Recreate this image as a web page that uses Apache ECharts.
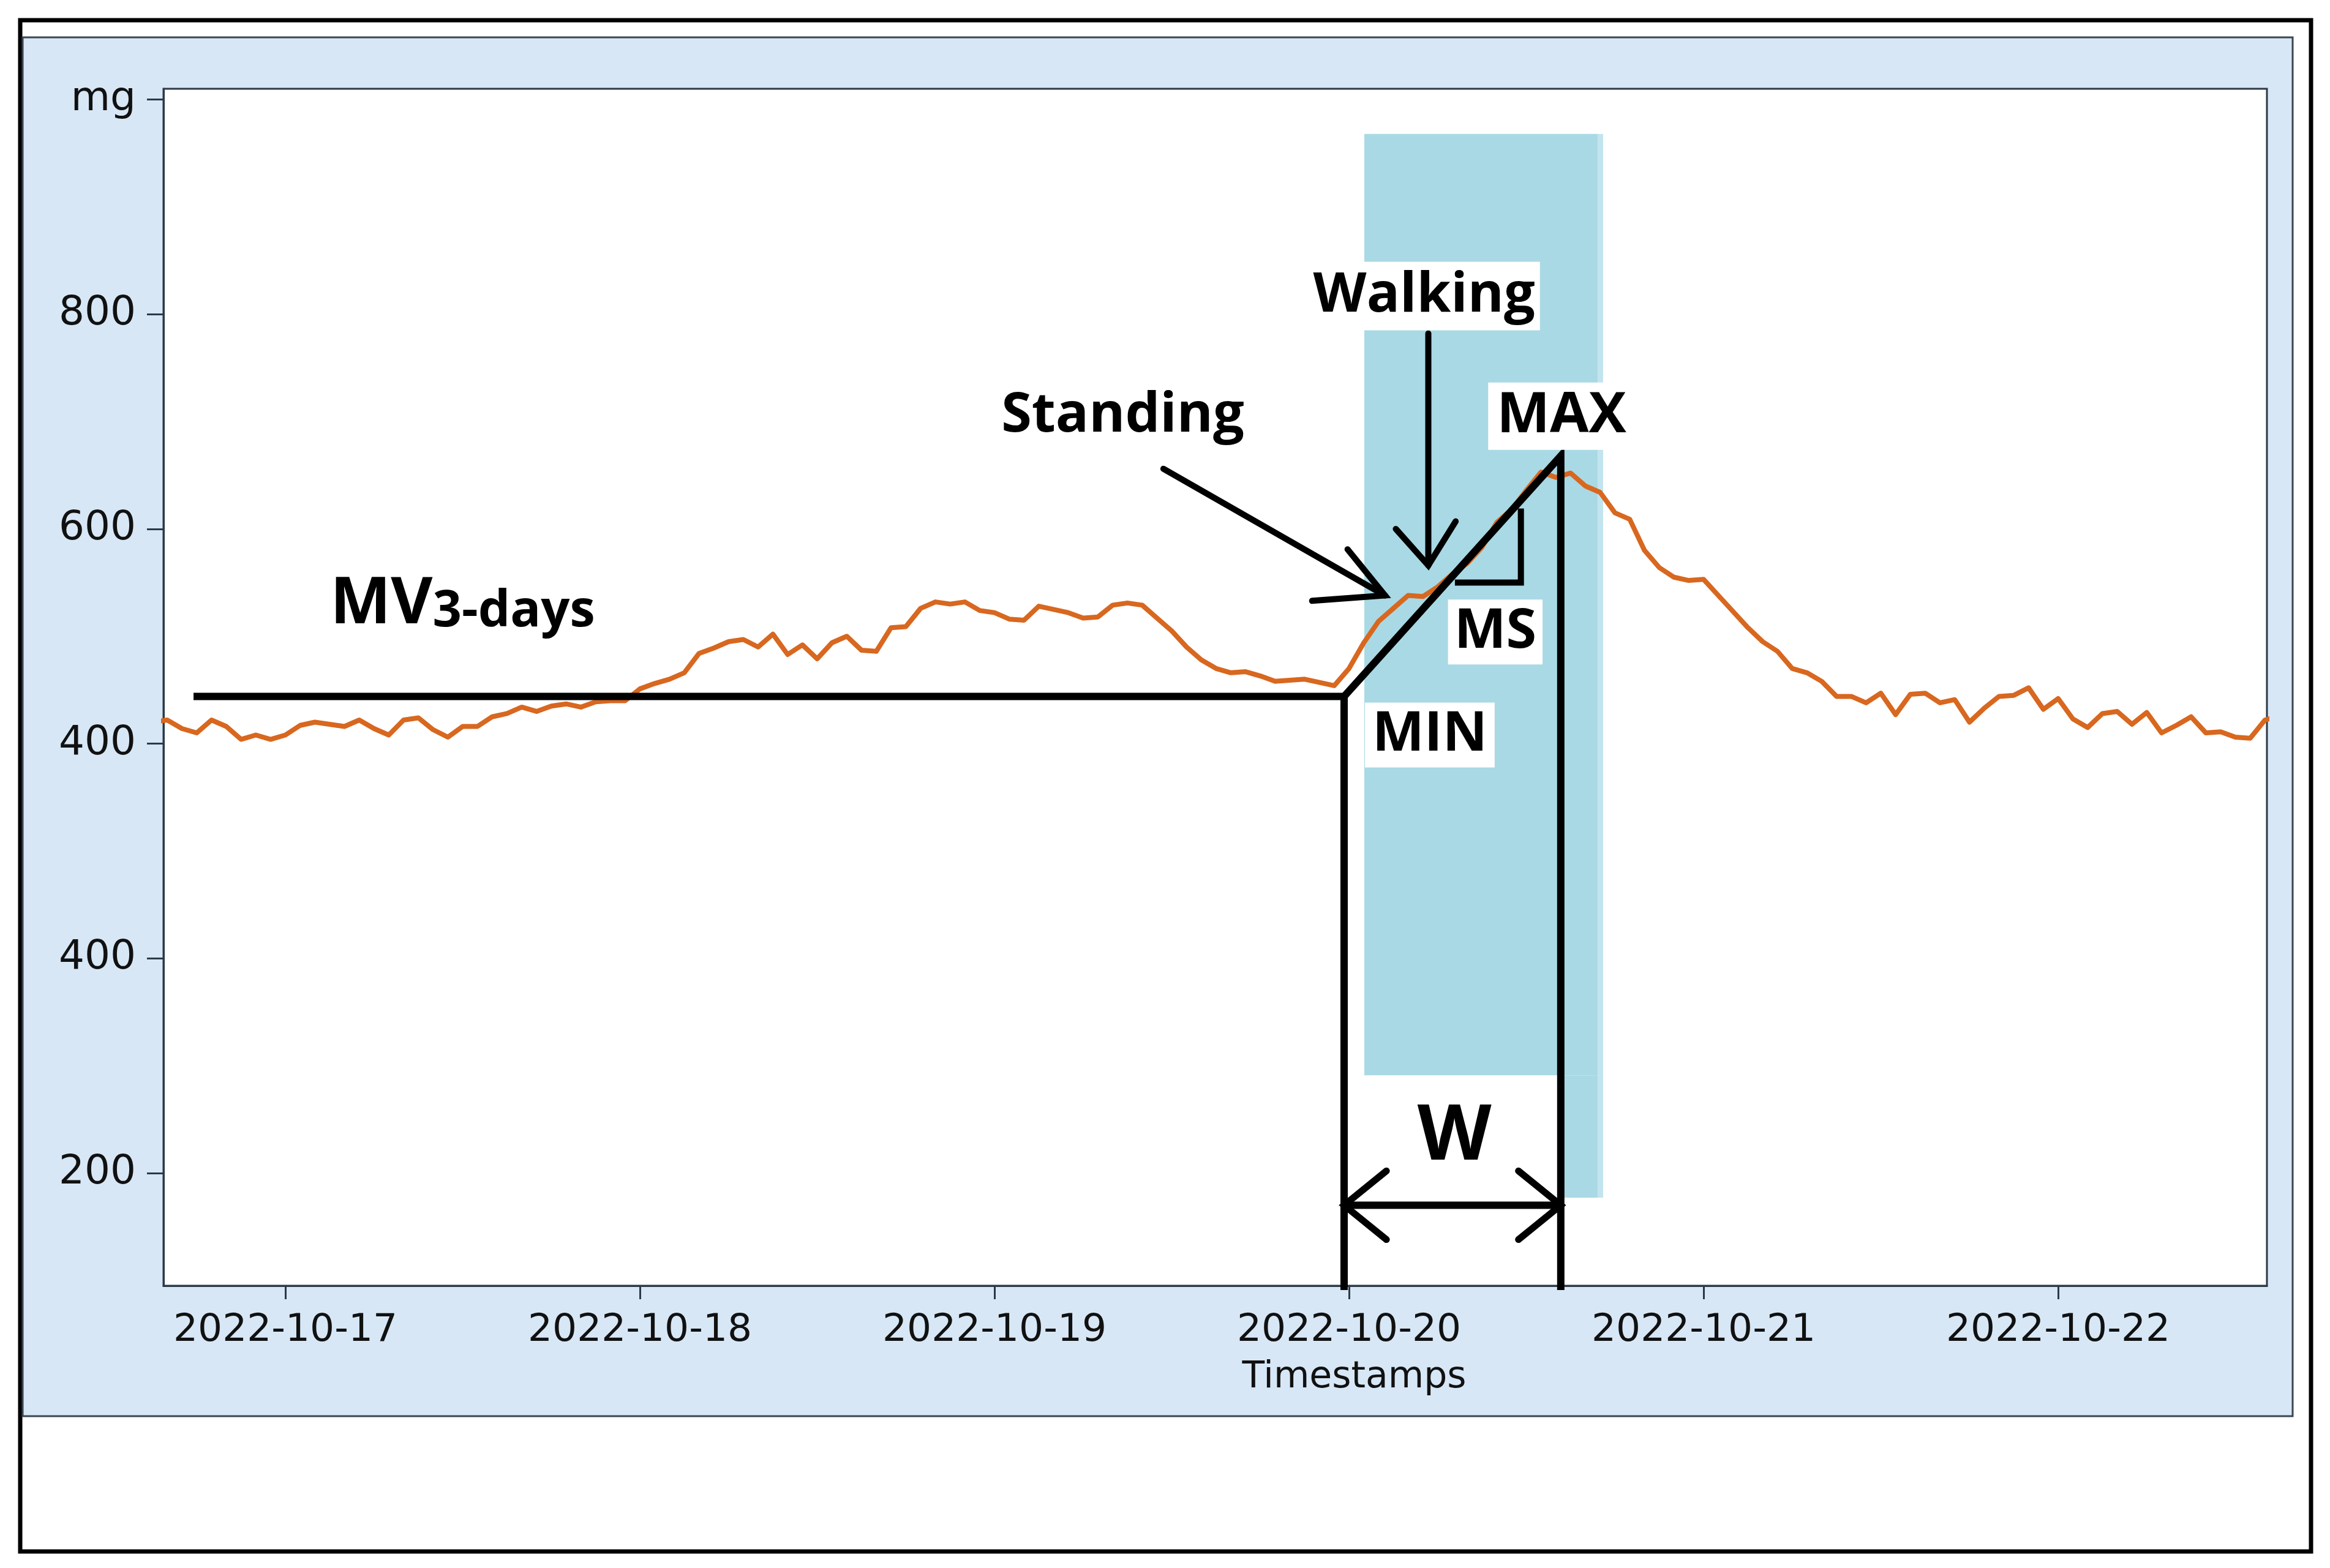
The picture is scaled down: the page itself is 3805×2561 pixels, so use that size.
<!DOCTYPE html>
<html>
<head>
<meta charset="utf-8">
<script src="https://cdn.jsdelivr.net/npm/echarts@6.0.0/dist/echarts.min.js"></script>
<style>
  html, body { margin: 0; padding: 0; background: #fff; }
  #chart { width: 3805px; height: 2561px; }
</style>
</head>
<body>
<div id="chart"></div>
<script>
// sensor trace, one reading per hour starting at traceStart (mg)
const traceStart = '2022-10-16 15:00';
const traceValues = [
  420, 422, 414, 410, 422, 416, 404, 408, 404,
  408, 417, 420, 418, 416, 422, 414, 408, 422, 424, 413, 406,
  416, 416, 425, 428, 434, 430, 435, 437, 434, 439, 440, 440,
  451, 456, 460, 466, 484, 489, 495, 497, 490, 502, 483, 492,
  479, 494, 500, 487, 486, 508, 509, 526, 532, 530, 532, 524,
  522, 516, 515, 528, 525, 522, 517, 518, 529, 531, 529, 517,
  505, 490, 478, 470, 466, 467, 463, 458, 459, 460, 457, 454,
  470, 494, 514, 526, 538, 537, 546, 558, 568, 583, 606, 618,
  636, 653, 648, 652, 640, 634, 615, 609, 580, 564, 555, 552,
  553, 538, 523, 508, 495, 486, 470, 466, 458, 444, 444, 438,
  447, 427, 446, 447, 438, 441, 420, 433, 444, 445, 452, 432,
  442, 423, 415, 428, 430, 418, 429, 410, 417, 425, 410, 411,
  406, 405, 422, 426
];

const dayTicks = ['2022-10-17 00:00', '2022-10-18 00:00', '2022-10-19 00:00', '2022-10-20 00:00', '2022-10-21 00:00', '2022-10-22 00:00'];
const yTicks = [0, 200, 400, 600, 800, 1000];
const yTickLabels = ['200', '400', '400', '600', '800', 'mg'];
const xRange = ['2022-10-16 15:45', '2022-10-22 14:08'];
const yRange = [-105, 1010];

// walking period shading
const walkBand = [
  [['2022-10-20 01:02', 968], ['2022-10-20 16:50', 91]],
  [['2022-10-20 14:16', 91], ['2022-10-20 16:50', -23]]
];
const walkBandEdge = [['2022-10-20 16:50', 968], ['2022-10-20 17:12', -23]];

// drawn annotation strokes
const mvLine = [['2022-10-16 17:47', 444], ['2022-10-19 23:40', 444], ['2022-10-19 23:40', -109]];
const slopeLine = [['2022-10-19 23:40', 444], ['2022-10-20 14:20', 668], ['2022-10-20 14:20', -109]];
const msCorner = [['2022-10-20 07:10', 550], ['2022-10-20 11:38', 550], ['2022-10-20 11:38', 619]];
const wShaft = [['2022-10-19 23:40', -30], ['2022-10-20 14:20', -30]];
const wHeadLeft = [['2022-10-20 02:32', 2], ['2022-10-19 23:40', -30], ['2022-10-20 02:32', -62]];
const wHeadRight = [['2022-10-20 11:28', 2], ['2022-10-20 14:20', -30], ['2022-10-20 11:28', -62]];
const standShaft = [['2022-10-19 11:26', 656], ['2022-10-20 02:26', 538]];
const standHead = [['2022-10-19 23:54', 581], ['2022-10-20 02:26', 538], ['2022-10-19 21:30', 533]];
const walkShaft = [['2022-10-20 05:22', 782], ['2022-10-20 05:22', 566]];
const walkHead = [['2022-10-20 03:10', 600], ['2022-10-20 05:22', 566], ['2022-10-20 07:13', 607]];

// annotation words and where they sit
const noteNames = ['Walking', 'Standing', 'MAX', 'MS', 'MIN', 'W'];
const noteAnchors = [
  ['2022-10-20 05:05', 817],
  ['2022-10-19 08:41', 705],
  ['2022-10-20 14:23', 705],
  ['2022-10-20 09:54', 504],
  ['2022-10-20 05:28', 408],
  ['2022-10-20 07:08', 33]
];
const mvAnchor = ['2022-10-17 12:00', 529];

// local-time 'YYYY-MM-DD HH:mm' -> epoch ms
function ms(s) {
  const p = s.split(/[- :]/).map(Number);
  return new Date(p[0], p[1] - 1, p[2], p[3], p[4]).getTime();
}
function pts(list) { return list.map(p => [ms(p[0]), p[1]]); }
function pad(n) { return n < 10 ? '0' + n : '' + n; }

const t0 = ms(traceStart);
const traceData = traceValues.map((v, i) => [t0 + i * 3600000, v]);
const dayTickValues = dayTicks.map(ms);

const boldFont = "'Open Sans', 'Noto Sans', sans-serif";
const axisFont = "'DejaVu Sans', sans-serif";
const noteStyles = [
  { fontSize: 90, backgroundColor: '#fff', padding: [14, 8, 8, 8] },
  { fontSize: 90 },
  { fontSize: 92, backgroundColor: '#fff', padding: [12, 14, 6, 14] },
  { fontSize: 90, backgroundColor: '#fff', padding: [10, 10, 6, 10] },
  { fontSize: 90, backgroundColor: '#fff', padding: [10, 12, 6, 12] },
  { fontSize: 125 }
];

function stroke(list, width, cap) {
  return {
    type: 'line',
    data: pts(list),
    symbol: 'none',
    silent: true,
    clip: false,
    z: 4,
    lineStyle: { color: '#000', width: width, cap: cap, join: 'miter' }
  };
}

const chart = echarts.init(document.getElementById('chart'));

const option = {
  animation: false,
  backgroundColor: '#fff',
  graphic: [
    {
      type: 'rect', z: -10,
      shape: { x: 33, y: 33, width: 3741, height: 2501 },
      style: { fill: '#fff', stroke: '#000', lineWidth: 7 }
    },
    {
      type: 'rect', z: -9,
      shape: { x: 37, y: 61, width: 3707, height: 2252 },
      style: { fill: '#d7e7f6', stroke: '#3b4651', lineWidth: 3 }
    }
  ],
  grid: {
    left: 267, right: 103, top: 145, bottom: 461,
    show: true,
    backgroundColor: '#fff',
    borderColor: '#2c3a47',
    borderWidth: 3
  },
  xAxis: {
    type: 'value',
    min: ms(xRange[0]),
    max: ms(xRange[1]),
    name: 'Timestamps',
    nameLocation: 'middle',
    nameGap: 120,
    nameTextStyle: {
      fontFamily: axisFont, fontSize: 60, color: '#111',
      padding: [0, 0, 0, 454]
    },
    axisLine: { onZero: false, lineStyle: { color: '#2c3a47', width: 3 } },
    axisTick: {
      customValues: dayTickValues,
      length: 22,
      lineStyle: { color: '#2c3a47', width: 3 }
    },
    axisLabel: {
      customValues: dayTickValues,
      margin: 42,
      fontFamily: axisFont,
      fontSize: 63,
      color: '#111',
      formatter: function (v) {
        const d = new Date(v);
        return d.getFullYear() + '-' + pad(d.getMonth() + 1) + '-' + pad(d.getDate());
      }
    },
    splitLine: { show: false }
  },
  yAxis: {
    type: 'value',
    min: yRange[0],
    max: yRange[1],
    axisLine: { show: true, onZero: false, lineStyle: { color: '#2c3a47', width: 3 } },
    axisTick: {
      show: true,
      customValues: yTicks,
      length: 27,
      lineStyle: { color: '#2c3a47', width: 3 }
    },
    axisLabel: {
      customValues: yTicks,
      margin: 45,
      fontFamily: axisFont,
      fontSize: 66,
      color: '#111',
      formatter: function (v) {
        const i = yTicks.indexOf(v);
        return i >= 0 ? yTickLabels[i] : '';
      }
    },
    splitLine: { show: false }
  },
  series: [
    {
      type: 'line',
      data: [],
      silent: true,
      z: 1,
      markArea: {
        silent: true,
        itemStyle: { color: '#a9d9e4', opacity: 1 },
        data: walkBand.map(b => [{ coord: [ms(b[0][0]), b[0][1]] }, { coord: [ms(b[1][0]), b[1][1]] }])
          .concat([[
            { coord: [ms(walkBandEdge[0][0]), walkBandEdge[0][1]], itemStyle: { color: '#c2e4ee' } },
            { coord: [ms(walkBandEdge[1][0]), walkBandEdge[1][1]] }
          ]])
      }
    },
    {
      name: 'mg',
      type: 'line',
      data: traceData,
      symbol: 'none',
      silent: true,
      z: 3,
      lineStyle: { color: '#d8671f', width: 8, join: 'round' }
    },
    stroke(mvLine, 12, 'butt'),
    stroke(slopeLine, 12, 'butt'),
    stroke(msCorner, 10, 'butt'),
    stroke(wShaft, 12, 'round'),
    stroke(wHeadLeft, 11, 'round'),
    stroke(wHeadRight, 11, 'round'),
    stroke(standShaft, 10, 'round'),
    stroke(standHead, 10, 'round'),
    stroke(walkShaft, 10, 'round'),
    stroke(walkHead, 10, 'round'),
    {
      type: 'scatter',
      symbolSize: 0,
      silent: true,
      z: 6,
      itemStyle: { opacity: 1 },
      data: noteNames.map((n, i) => ({
        name: n,
        value: [ms(noteAnchors[i][0]), noteAnchors[i][1]],
        label: Object.assign({
          show: true,
          position: 'inside',
          formatter: '{b}',
          color: '#000',
          opacity: 1,
          textBorderWidth: 0,
          fontFamily: boldFont,
          fontWeight: 'bold'
        }, noteStyles[i])
      })).concat([{
        name: 'MV',
        value: [ms(mvAnchor[0]), mvAnchor[1]],
        label: {
          show: true,
          position: 'inside',
          opacity: 1,
          textBorderWidth: 0,
          formatter: '{a|MV}{b|3-days}',
          rich: {
            a: { fontFamily: boldFont, fontWeight: 'bold', fontSize: 105, lineHeight: 105, color: '#000', verticalAlign: 'bottom' },
            b: { fontFamily: boldFont, fontWeight: 'bold', fontSize: 83, lineHeight: 83, color: '#000', verticalAlign: 'bottom' }
          }
        }
      }])
    }
  ]
};

chart.setOption(option);
</script>
</body>
</html>
